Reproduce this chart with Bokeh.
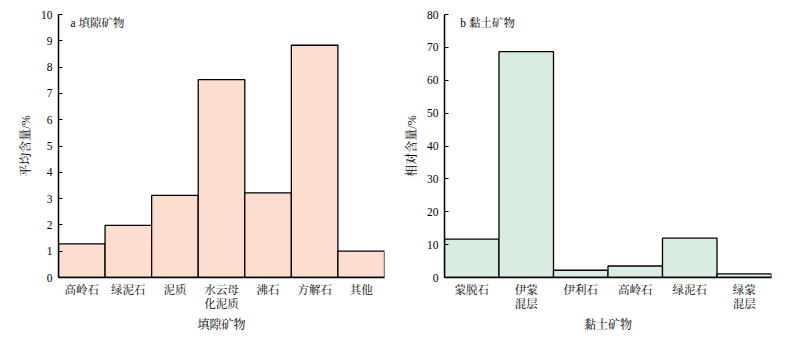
from bokeh.plotting import figure
from bokeh.layouts import row
from bokeh.models import FixedTicker, ColumnDataSource, Label
from bokeh.embed import file_html
from bokeh.resources import INLINE

# Data
cats_a = ["高岭石", "绿泥石", "泥质", "水云母\n化泥质", "沸石", "方解石", "其他"]
vals_a = [1.28, 1.98, 3.12, 7.52, 3.22, 8.83, 1.0]
yticks_a = [0, 1, 2, 3, 4, 5, 6, 7, 8, 9, 10]

cats_b = ["蒙脱石", "伊蒙\n混层", "伊利石", "高岭石", "绿泥石", "绿蒙\n混层"]
vals_b = [11.7, 68.7, 2.2, 3.5, 12.0, 1.1]
yticks_b = [0, 10, 20, 30, 40, 50, 60, 70, 80]

FONT = "'Liberation Serif', 'Noto Serif CJK SC', 'Noto Sans CJK SC', serif"


def make(cats, vals, yticks, ymax, fill, ylabel, xlabel, title, width, ml, mr, tx):
    n = len(cats)
    p = figure(width=width, height=337, x_range=(-0.5, n - 0.5), y_range=(0, ymax),
               output_backend="svg", toolbar_location=None,
               min_border_left=ml, min_border_right=mr, min_border_top=14, min_border_bottom=60)
    p.outline_line_color = None
    p.grid.visible = False
    src = ColumnDataSource(dict(x=list(range(n)), top=vals))
    p.vbar(x="x", top="top", width=1.0, bottom=0, source=src,
           fill_color=fill, line_color="black", line_width=1.3)
    # axes
    p.xaxis.ticker = FixedTicker(ticks=list(range(n)))
    p.xaxis.major_label_overrides = {i: c for i, c in enumerate(cats)}
    p.xaxis.minor_tick_line_color = None
    p.xaxis.major_tick_in = 0
    p.xaxis.major_tick_out = 0
    p.yaxis.ticker = FixedTicker(ticks=yticks)
    p.yaxis.major_tick_in = 4
    p.yaxis.major_tick_out = 0
    p.yaxis.minor_tick_line_color = None
    for ax in (p.xaxis, p.yaxis):
        ax.axis_line_width = 1.5
        ax.axis_line_color = "black"
        ax.major_label_text_font = FONT
        ax.major_label_text_font_size = "11.5px"
        ax.major_label_text_color = "black"
        ax.axis_label_text_font = FONT
        ax.axis_label_text_font_size = "12px"
        ax.axis_label_text_font_style = "normal"
        ax.axis_label_text_color = "black"
    p.yaxis.major_tick_line_color = "black"
    p.xaxis.major_tick_line_color = None
    p.xaxis.major_label_standoff = 6
    p.yaxis.major_label_standoff = 6
    p.xaxis.axis_label = xlabel
    p.yaxis.axis_label = ylabel
    p.xaxis.axis_label_standoff = 5
    p.yaxis.axis_label_standoff = 5
    p.add_layout(Label(x=-0.5 + tx, y=ymax * 0.966, text=title,
                       text_font=FONT, text_font_size="11.5px", text_color="black",
                       text_baseline="middle"))
    return p


pa = make(cats_a, vals_a, yticks_a, 10, "#fcddd0", "平均含量/%", "填隙矿物", "a 填隙矿物", 400, 58, 16, 0.26)
pb = make(cats_b, vals_b, yticks_b, 80, "#d8ede0", "相对含量/%", "黏土矿物", "b 黏土矿物", 402, 44, 31, 0.29)

layout = row(pa, pb)
open("out.html", "w").write(file_html(layout, INLINE))
